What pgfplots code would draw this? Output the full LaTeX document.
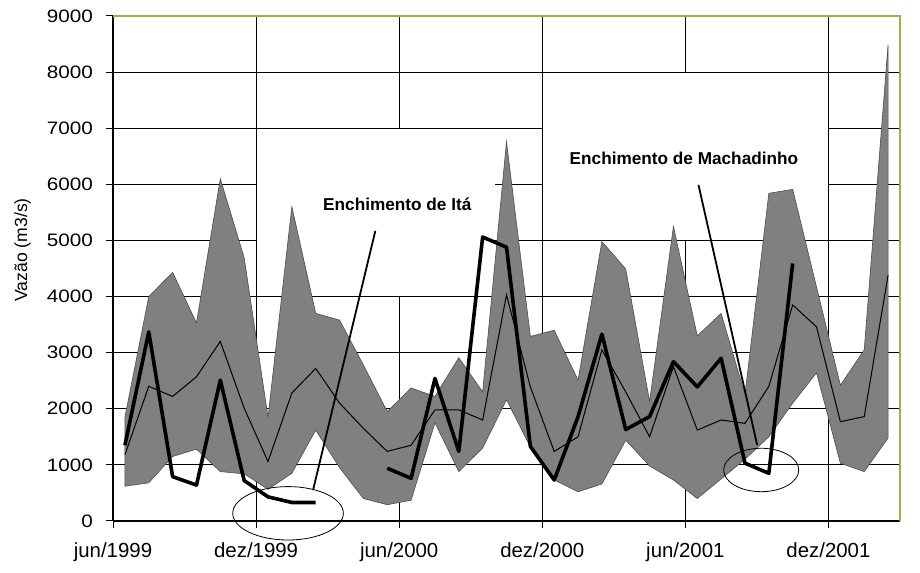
\documentclass[border=0pt]{standalone}
\usepackage{fontspec}
\setmainfont{Liberation Sans}
\usepackage{graphicx}
\usepackage{pgfplots}
\pgfplotsset{compat=1.18}
\definecolor{band}{RGB}{128,128,128}
\definecolor{frameol}{RGB}{170,170,70}

\begin{document}
\begin{tikzpicture}
\begin{axis}[
  scale only axis, width=393.5pt, height=252.5pt,
  xmin=0, xmax=33, ymin=0, ymax=9000,
  axis x line*=bottom, axis y line*=left,
  axis line style={black, line width=0.6pt, -},
  xtick={0,6,...,30},
  xticklabels={jun/1999,dez/1999,jun/2000,dez/2000,jun/2001,dez/2001},
  xticklabel style={font=\fontsize{10.2}{12}\selectfont, yshift=-4pt},
  ytick={0,1000,...,9000}, scaled y ticks=false,
  yticklabel={\scalebox{1.15}[1]{\pgfmathprintnumber[1000 sep={},assume math mode=true]{\tick}}},
  yticklabel style={font=\fontsize{9}{10}\selectfont, xshift=-3pt},
  tick align=outside, major tick length=3.5pt,
  tick style={black, line width=0.5pt},
  grid=major, grid style={black, line width=0.5pt},
  ylabel={Vazão (m3/s)},
  ylabel style={font=\fontsize{8.8}{10}\selectfont, at={(axis description cs:-0.115,0.537)}, anchor=center},
  clip=false,
]
% white text boxes hide the grid
\fill[white] ([xshift=0.3pt,yshift=-0.3pt]axis cs:6,7000) rectangle ([yshift=0.3pt]axis cs:16,4000);
\fill[white] ([xshift=0.3pt,yshift=-0.3pt]axis cs:18,8000) rectangle ([xshift=-0.3pt,yshift=0.3pt]axis cs:30,5000);

% max / min band
\addplot[fill=band, draw=black!70, line width=0.3pt] coordinates {
  (0.5,1850) (1.5,4000) (2.5,4430) (3.5,3530) (4.5,6100) (5.5,4690) (6.5,1850)
  (7.5,5600) (8.5,3700) (9.5,3580) (10.5,2780) (11.5,1950) (12.5,2370) (13.5,2220)
  (14.5,2910) (15.5,2300) (16.5,6760) (17.5,3290) (18.5,3400) (19.5,2510) (20.5,4980)
  (21.5,4490) (22.5,2130) (23.5,5250) (24.5,3300) (25.5,3700) (26.5,2250) (27.5,5840)
  (28.5,5910) (29.5,4170) (30.5,2420) (31.5,3050) (32.5,8490)
  (32.5,1480) (31.5,880) (30.5,1030) (29.5,2640) (28.5,2100) (27.5,1500) (26.5,1100)
  (25.5,750) (24.5,400) (23.5,730) (22.5,980) (21.5,1440) (20.5,660) (19.5,520)
  (18.5,730) (17.5,1320) (16.5,2160) (15.5,1300) (14.5,880) (13.5,1750) (12.5,370)
  (11.5,290) (10.5,400) (9.5,950) (8.5,1620) (7.5,850) (6.5,565) (5.5,840) (4.5,880)
  (3.5,1280) (2.5,1150) (1.5,680) (0.5,620)} -- cycle;

% median
\addplot[black, line width=0.5pt] coordinates {
  (0.5,1180) (1.5,2400) (2.5,2220) (3.5,2570) (4.5,3200) (5.5,2010) (6.5,1060)
  (7.5,2280) (8.5,2720) (9.5,2100) (10.5,1650) (11.5,1240) (12.5,1350) (13.5,1980)
  (14.5,1980) (15.5,1800) (16.5,4030) (17.5,2390) (18.5,1240) (19.5,1500) (20.5,3050)
  (21.5,2300) (22.5,1500) (23.5,2750) (24.5,1620) (25.5,1800) (26.5,1740) (27.5,2400)
  (28.5,3850) (29.5,3460) (30.5,1770) (31.5,1860) (32.5,4380)};

% observed flow
\addplot[black, line width=1.8pt, line join=round] coordinates {
  (0.5,1350) (1.5,3370) (2.5,790) (3.5,640) (4.5,2510) (5.5,720) (6.5,430)
  (7.5,330) (8.5,330)};
\addplot[black, line width=1.8pt, line join=round] coordinates {
  (11.5,940) (12.5,760) (13.5,2540) (14.5,1240) (15.5,5060) (16.5,4880) (17.5,1330)
  (18.5,730) (19.5,1860) (20.5,3330) (21.5,1630) (22.5,1860) (23.5,2840) (24.5,2390)
  (25.5,2900) (26.5,1030) (27.5,850) (28.5,4590)};

% annotations
\node[font=\bfseries\fontsize{8.6}{10}\selectfont] at (axis cs:11.92,5650) {Enchimento de Itá};
\node[font=\bfseries\fontsize{8.6}{10}\selectfont] at (axis cs:23.94,6470) {Enchimento de Machadinho};
\draw[line width=0.9pt] (axis cs:11.0,5170) -- (axis cs:8.39,553);
\draw[line width=0.9pt] (axis cs:24.55,5990) -- (axis cs:27.01,1355);
\draw[line width=0.4pt] (axis cs:7.34,137) ellipse [x radius=2.32, y radius=476];
\draw[line width=0.4pt] (axis cs:27.18,909) ellipse [x radius=1.574, y radius=387];

% plot area frame (top, right)
\draw[frameol, line width=0.6pt] (rel axis cs:0,1) -- (rel axis cs:1,1) -- (rel axis cs:1,0);
\end{axis}
\path ([shift={(-56.5pt,-26pt)}]current axis.south west) rectangle ([shift={(10pt,8pt)}]current axis.north east);
\end{tikzpicture}
\end{document}
